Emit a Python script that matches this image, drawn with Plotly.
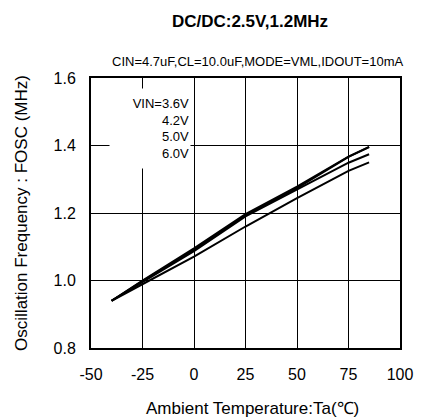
import plotly.graph_objects as go

temps = [-40, -25, 0, 25, 50, 75, 85]
vin_labels = ["VIN=3.6V", "4.2V", "5.0V", "6.0V"]
f_36 = [0.940, 1.000, 1.095, 1.197, 1.278, 1.367, 1.396]
f_42 = [0.940, 0.998, 1.091, 1.193, 1.274, 1.366, 1.395]
f_50 = [0.940, 0.996, 1.087, 1.190, 1.270, 1.349, 1.374]
f_60 = [0.940, 0.989, 1.071, 1.160, 1.244, 1.325, 1.350]
series = [f_36, f_42, f_50, f_60]

x_ticks = [-50, -25, 0, 25, 50, 75, 100]
x_tick_text = ["-50", "-25", "0", "25", "50", "75", "100"]
y_ticks = [0.8, 1.0, 1.2, 1.4, 1.6]
y_tick_text = ["0.8", "1.0", "1.2", "1.4", "1.6"]

FONT = "Liberation Sans, Arial, sans-serif"
L, R, T, B, W, H = 91, 16, 78, 71, 425, 419
PW, PH = W - L - R, H - T - B

def px(x):
    return (x - L) / PW

def py(y):
    return (H - B - y) / PH

fig = go.Figure()
for lab, ys in zip(vin_labels, series):
    fig.add_trace(go.Scatter(x=temps, y=ys, mode="lines", name=lab,
                             line=dict(color="black", width=2), showlegend=False))

fig.update_layout(
    width=W, height=H,
    margin=dict(l=L, r=R, t=T, b=B),
    paper_bgcolor="white", plot_bgcolor="white",
    font=dict(family=FONT, color="black", size=14),
    title=dict(text="<b>DC/DC:2.5V,1.2MHz</b>", x=250/W, xanchor="center",
               y=1 - 21/H, yanchor="middle", font=dict(size=17)),
)
fig.update_xaxes(range=[-50, 100], tickvals=x_ticks, ticktext=x_tick_text, showgrid=True,
                 gridcolor="black", gridwidth=1, showline=True, linecolor="black", linewidth=2,
                 mirror=True, zeroline=False, ticks="", ticklabelstandoff=11,
                 tickfont=dict(size=16))
fig.update_yaxes(range=[0.8, 1.6], tickvals=y_ticks, ticktext=y_tick_text, showgrid=True,
                 gridcolor="black", gridwidth=1, showline=True, linecolor="black",
                 linewidth=2, mirror=True, zeroline=False, ticks="", ticklabelstandoff=10,
                 tickfont=dict(size=16),
                 title=dict(text="Oscillation Frequency : FOSC (MHz)", font=dict(size=17), standoff=22))

fig.add_annotation(text="Ambient Temperature:Ta(\u2103)", xref="paper", yref="paper",
                   x=px(257), y=py(408), xanchor="center", yanchor="middle",
                   showarrow=False, font=dict(size=17))
fig.add_annotation(text="CIN=4.7uF,CL=10.0uF,MODE=VML,IDOUT=10mA", xref="paper", yref="paper",
                   x=px(263), y=py(62), xanchor="center", yanchor="middle",
                   showarrow=False, font=dict(size=13))
fig.add_annotation(text="<br>".join(vin_labels), xref="paper", yref="paper",
                   x=px(110), y=py(88), xanchor="left", yanchor="top",
                   width=78, height=77, align="right", valign="middle", bgcolor="white",
                   showarrow=False, font=dict(size=13))

fig.write_html("out.html", config={"displayModeBar": False},
               post_script="document.body.style.margin='0';")
